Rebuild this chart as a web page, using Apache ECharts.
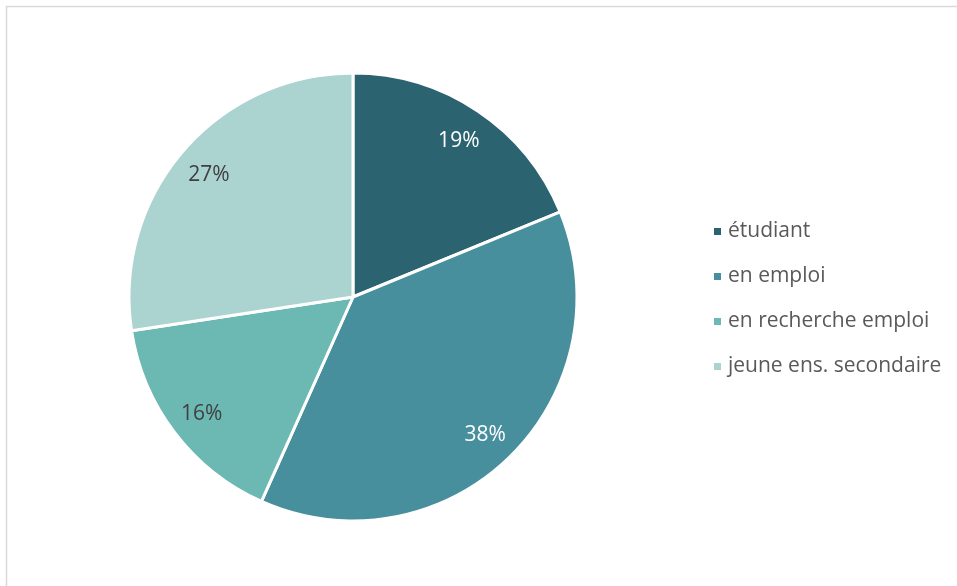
<!DOCTYPE html>
<html>
<head>
<meta charset="utf-8">
<script src="https://cdn.jsdelivr.net/npm/echarts@6/dist/echarts.min.js"></script>
<style>
html,body{margin:0;padding:0;background:#fff;}
#chart{width:957px;height:586px;}
</style>
</head>
<body>
<div id="chart"></div>
<script>
const categories = ['étudiant', 'en emploi', 'en recherche emploi', 'jeune ens. secondaire'];
const values = [18.8, 37.9, 15.9, 27.4];
const colors = ['#2C6371', '#478F9D', '#6CB8B3', '#ABD4D1'];
const labelColors = ['#ffffff', '#ffffff', '#404040', '#404040'];

const chart = echarts.init(document.getElementById('chart'), null, {renderer: 'canvas'});
const font = '"Open Sans", "Noto Sans", sans-serif';
const dataMain = categories.map((c, i) => ({name: c, value: values[i], itemStyle: {color: colors[i]}}));
const dataLabels = categories.map((c, i) => ({
  name: c, value: values[i],
  label: {color: labelColors[i]}
}));

chart.setOption({
  animation: false,
  graphic: [{
    type: 'rect',
    shape: {x: 6.5, y: 6.5, width: 1200, height: 1200},
    style: {fill: 'none', stroke: '#d9d9d9', lineWidth: 1.5},
    silent: true,
    z: -10
  }],
  legend: {
    orient: 'vertical',
    left: 712,
    top: 221,
    padding: 0,
    icon: 'rect',
    itemWidth: 9,
    itemHeight: 9,
    itemGap: 24,
    data: categories,
    textStyle: {color: '#595959', fontSize: 21, fontFamily: font, padding: [0, 0, 0, 1]}
  },
  series: [{
    type: 'pie',
    center: [353, 297],
    radius: [0, 224],
    startAngle: 90,
    clockwise: true,
    label: {show: false},
    labelLine: {show: false},
    itemStyle: {borderColor: '#ffffff', borderWidth: 3},
    emphasis: {disabled: true},
    data: dataMain
  }, {
    type: 'pie',
    center: [353, 299],
    radius: [150, 224],
    startAngle: 90,
    clockwise: true,
    silent: true,
    legendHoverLink: false,
    itemStyle: {color: 'rgba(0,0,0,0)', borderWidth: 0},
    label: {
      show: true,
      position: 'inside',
      formatter: p => Math.round(p.value) + '%',
      fontSize: 21,
      fontFamily: font
    },
    labelLine: {show: false},
    emphasis: {disabled: true},
    data: dataLabels
  }]
});
</script>
</body>
</html>
